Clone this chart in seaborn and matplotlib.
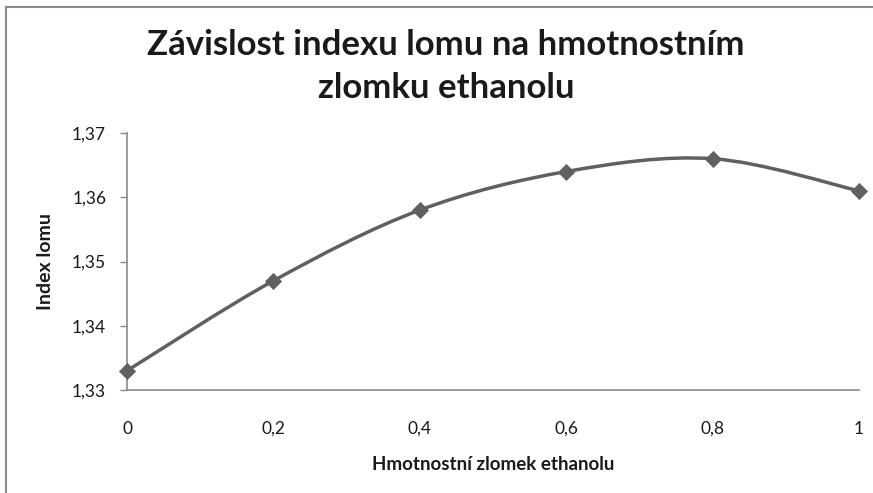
import numpy as np
import pandas as pd
import matplotlib
matplotlib.use("Agg")
import matplotlib.pyplot as plt
from matplotlib.path import Path
from matplotlib.patches import PathPatch
from matplotlib.lines import Line2D
import seaborn as sns

# Mass fraction of ethanol and measured refractive index
mass_fraction = [0.0, 0.2, 0.4, 0.6, 0.8, 1.0]
refractive_index = [1.333, 1.347, 1.358, 1.364, 1.366, 1.361]

x_ticks = [0.0, 0.2, 0.4, 0.6, 0.8, 1.0]
x_tick_labels = ["0", "0,2", "0,4", "0,6", "0,8", "1"]
y_ticks = [1.33, 1.34, 1.35, 1.36, 1.37]
y_tick_labels = ["1,33", "1,34", "1,35", "1,36", "1,37"]

title_lines = ["Závislost indexu lomu na hmotnostním", "zlomku ethanolu"]
x_label = "Hmotnostní zlomek ethanolu"
y_label = "Index lomu"

df = pd.DataFrame({"x": mass_fraction, "y": refractive_index})

sns.set_style("white")
plt.rcParams["font.family"] = ["Lato", "DejaVu Sans"]

W, H = 873, 493
fig = plt.figure(figsize=(W / 100, H / 100), dpi=100)
ax = fig.add_axes([127 / W, 1 - 390 / H, (859 - 127) / W, (390 - 133) / H])

line_color = "#606060"
axis_color = "#8a8a8a"
text_color = "#1a1a1a"

# Smoothed connecting line: cubic Bezier segments (Catmull-Rom style control points)
pts = df[["x", "y"]].to_numpy()
padded = np.vstack([pts[0], pts, pts[-1]])
verts = [tuple(pts[0])]
codes = [Path.MOVETO]
for i in range(len(pts) - 1):
    p0, p1, p2, p3 = padded[i], padded[i + 1], padded[i + 2], padded[i + 3]
    c1 = p1 + (p2 - p0) / 6.0
    c2 = p2 - (p3 - p1) / 6.0
    verts += [tuple(c1), tuple(c2), tuple(p2)]
    codes += [Path.CURVE4] * 3
ax.add_patch(PathPatch(Path(verts, codes), facecolor="none", edgecolor=line_color,
                       lw=2.5, capstyle="round", joinstyle="round", zorder=2))

sns.scatterplot(data=df, x="x", y="y", ax=ax, marker="D", s=68, color=line_color,
                edgecolor=line_color, linewidth=0.5, zorder=3, legend=False,
                clip_on=False)

ax.set_xlim(0, 1)
ax.set_ylim(1.33, 1.37)
ax.set_xticks(x_ticks)
ax.set_xticklabels(x_tick_labels)
ax.set_yticks(y_ticks)
ax.set_yticklabels(y_tick_labels)
ax.tick_params(axis="x", length=0, pad=22, labelsize=12.5, colors=text_color)
ax.tick_params(axis="y", length=5, width=1, color=axis_color, pad=10,
               labelsize=12.5, labelcolor=text_color, left=True)
for side in ["top", "right"]:
    ax.spines[side].set_visible(False)
for side in ["left", "bottom"]:
    ax.spines[side].set_color(axis_color)
    ax.spines[side].set_linewidth(1.2)
ax.grid(False)
ax.set_xlabel(x_label, fontsize=13.5, fontweight="bold", labelpad=14, color=text_color)
ax.set_ylabel(y_label, fontsize=14, fontweight="bold", labelpad=13, color=text_color)

fig.text(446 / W, 1 - 45 / H, title_lines[0], ha="center", va="center", fontsize=25,
         fontweight="bold", color=text_color)
fig.text(446 / W, 1 - 88 / H, title_lines[1], ha="center", va="center", fontsize=25,
         fontweight="bold", color=text_color)

# Chart area frame (left and top edges)
fig.add_artist(Line2D([5.5 / W, 5.5 / W], [0, 1 - 6.5 / H], transform=fig.transFigure,
                      color=axis_color, lw=1.5))
fig.add_artist(Line2D([5.5 / W, 1], [1 - 6.5 / H, 1 - 6.5 / H], transform=fig.transFigure,
                      color=axis_color, lw=1.5))

fig.savefig("out.png", dpi=100)
